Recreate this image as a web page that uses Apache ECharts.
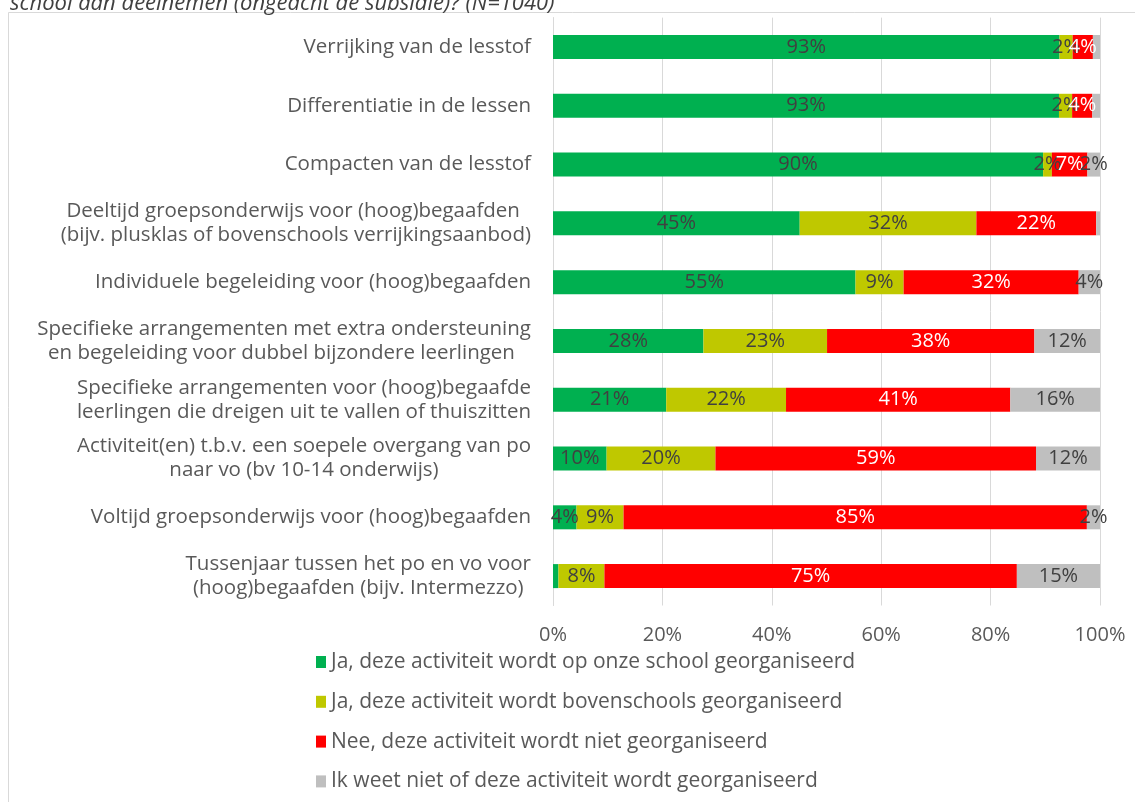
<!DOCTYPE html>
<html>
<head>
<meta charset="utf-8">
<script src="https://cdn.jsdelivr.net/npm/echarts@6/dist/echarts.min.js"></script>
<style>
  html, body { margin: 0; padding: 0; background: #fff; }
  #chart { width: 1135px; height: 802px; }
</style>
</head>
<body>
<div id="chart"></div>
<script>
// Activities (top to bottom)
const categories = [
  'Verrijking van de lesstof',
  'Differentiatie in de lessen',
  'Compacten van de lesstof',
  'Deeltijd groepsonderwijs voor (hoog)begaafden \n(bijv. plusklas of bovenschools verrijkingsaanbod)',
  'Individuele begeleiding voor (hoog)begaafden',
  'Specifieke arrangementen met extra ondersteuning\nen begeleiding voor dubbel bijzondere leerlingen ',
  'Specifieke arrangementen voor (hoog)begaafde\nleerlingen die dreigen uit te vallen of thuiszitten',
  'Activiteit(en) t.b.v. een soepele overgang van po\nnaar vo (bv 10-14 onderwijs)',
  'Voltijd groepsonderwijs voor (hoog)begaafden',
  'Tussenjaar tussen het po en vo voor\n(hoog)begaafden (bijv. Intermezzo)'
];

// Share of schools per answer, in percent
const opSchool          = [92.6, 92.5, 89.6, 45.1, 55.3, 27.5, 20.7,  9.8,  4.3,  1.0];
const bovenschools      = [ 2.4,  2.4,  1.6, 32.3,  8.8, 22.6, 21.9, 19.9,  8.6,  8.4];
const nietGeorganiseerd = [ 3.7,  3.7,  6.5, 21.9, 32.0, 37.9, 41.0, 58.6, 84.7, 75.4];
const weetNiet          = [ 1.3,  1.4,  2.3,  0.7,  3.9, 12.0, 16.4, 11.7,  2.4, 15.2];

const seriesNames = [
  'Ja, deze activiteit wordt op onze school georganiseerd',
  'Ja, deze activiteit wordt bovenschools georganiseerd',
  'Nee, deze activiteit wordt niet georganiseerd',
  'Ik weet niet of deze activiteit wordt georganiseerd'
];
const seriesData = [opSchool, bovenschools, nietGeorganiseerd, weetNiet];
const colors = ['#00B050', '#BFC800', '#FF0000', '#BFBFBF'];
const labelColors = ['#404040', '#404040', '#FFFFFF', '#404040'];

const xTicks = [0, 20, 40, 60, 80, 100];

const FONT = '"Open Sans", sans-serif';

const chart = echarts.init(document.getElementById('chart'), null, { renderer: 'canvas' });

const series = seriesData.map((data, i) => ({
  name: seriesNames[i],
  type: 'bar',
  stack: 'total',
  barWidth: 24,
  data: data,
  itemStyle: { color: colors[i] },
  label: {
    show: true,
    position: 'inside',
    color: labelColors[i],
    fontFamily: FONT,
    fontSize: 20,
    formatter: p => (p.value < 1.5 ? '' : Math.round(p.value) + '%')
  },
  emphasis: { disabled: true }
}));

chart.setOption({
  animation: false,
  backgroundColor: '#ffffff',
  textStyle: { fontFamily: FONT },
  title: {
    text: 'school aan deelnemen (ongeacht de subsidie)? (N=1040)',
    left: 5,
    top: -12,
    textStyle: {
      fontFamily: FONT,
      fontStyle: 'italic',
      fontWeight: 'normal',
      fontSize: 22,
      color: '#404040'
    }
  },
  graphic: [{
    type: 'rect',
    silent: true,
    z: -10,
    shape: { x: 8.5, y: 12.5, width: 1300, height: 1000 },
    style: { fill: null, stroke: '#D9D9D9', lineWidth: 1 }
  }],
  grid: {
    left: 553,
    right: 35,
    top: 17.6,
    bottom: 196.5,
    containLabel: false
  },
  xAxis: {
    type: 'value',
    min: xTicks[0],
    max: xTicks[xTicks.length - 1],
    interval: 20,
    axisLine: { show: false },
    axisTick: { show: false },
    splitLine: { show: true, lineStyle: { color: '#D9D9D9', width: 1 } },
    axisLabel: {
      margin: 20,
      color: '#595959',
      fontFamily: FONT,
      fontSize: 20,
      formatter: v => v + '%'
    }
  },
  yAxis: {
    type: 'category',
    inverse: true,
    data: categories,
    axisLine: { show: true, lineStyle: { color: '#D9D9D9' } },
    axisTick: { show: false },
    axisLabel: {
      margin: 22,
      color: '#595959',
      fontFamily: FONT,
      fontSize: 20.5,
      lineHeight: 24,
      align: 'right',
      formatter: v => v.split('\n').map(l => '{c|' + l + '}').join('\n'),
      rich: {
        c: {
          align: 'center',
          color: '#595959',
          fontFamily: FONT,
          fontSize: 20.5,
          lineHeight: 24
        }
      }
    }
  },
  legend: {
    orient: 'vertical',
    left: 316,
    top: 650,
    padding: 0,
    itemWidth: 10,
    itemHeight: 12,
    itemGap: 15.8,
    icon: 'rect',
    selectedMode: false,
    data: seriesNames,
    textStyle: {
      color: '#595959',
      fontFamily: FONT,
      fontSize: 21,
      lineHeight: 24
    }
  },
  series: series
});
</script>
</body>
</html>
